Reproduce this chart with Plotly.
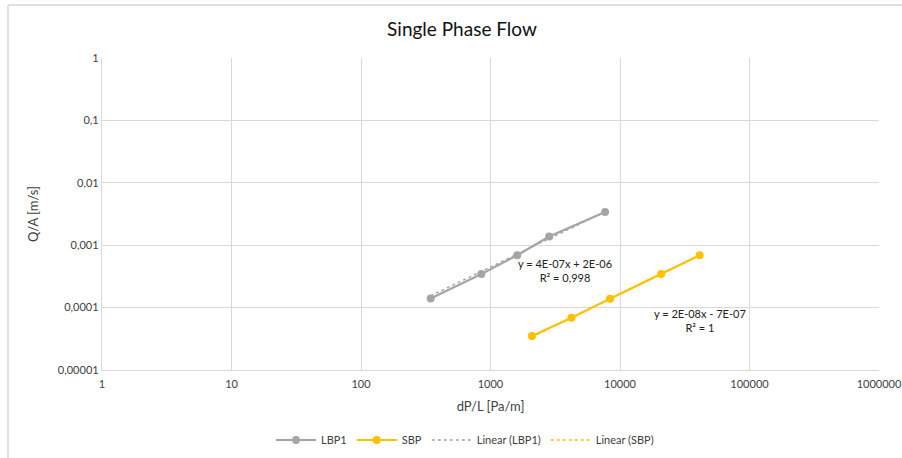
import numpy as np
import plotly.graph_objects as go

# Pressure gradient [Pa/m] and superficial velocity [m/s]
lbp1_dpdl = [345, 850, 1610, 2840, 7670]
lbp1_qa = [1.4e-4, 3.45e-4, 6.9e-4, 1.38e-3, 3.4e-3]
sbp_dpdl = [2090, 4220, 8380, 20800, 41200]
sbp_qa = [3.5e-5, 6.9e-5, 1.39e-4, 3.46e-4, 6.9e-4]

x_tickvals = [1, 10, 100, 1000, 10000, 100000, 1000000]
x_ticktext = ["1", "10", "100", "1000", "10000", "100000", "1000000"]
y_tickvals = [1e-5, 1e-4, 1e-3, 1e-2, 1e-1, 1]
y_ticktext = ["0,00001", "0,0001", "0,001", "0,01", "0,1", "1"]

lbp1_eq = "y = 4E-07x + 2E-06<br>R² = 0,998"
sbp_eq = "y = 2E-08x - 7E-07<br>R² = 1"

GRAY = "#a5a5a5"
YELLOW = "#ffc000"
TXT = "#404040"
GRID = "#d9d9d9"
FONT = "Lato"

W, H = 902, 458
ML, MR, MT, MB = 102, 23, 58, 88
PW, PH = W - ML - MR, H - MT - MB


def linear_fit(x, y):
    slope, intercept = np.polyfit(np.asarray(x, float), np.asarray(y, float), 1)
    xs = np.geomspace(min(x), max(x), 80)
    return xs, slope * xs + intercept


fig = go.Figure()

fig.add_trace(go.Scatter(
    x=lbp1_dpdl, y=lbp1_qa, name="LBP1", mode="lines+markers",
    line=dict(color=GRAY, width=2.2), marker=dict(color=GRAY, size=8),
))
fig.add_trace(go.Scatter(
    x=sbp_dpdl, y=sbp_qa, name="SBP", mode="lines+markers",
    line=dict(color=YELLOW, width=2.2), marker=dict(color=YELLOW, size=8),
))

tx, ty = linear_fit(lbp1_dpdl, lbp1_qa)
fig.add_trace(go.Scatter(
    x=tx, y=ty, name="Linear (LBP1)", mode="lines",
    line=dict(color=GRAY, width=1.4, dash="dot"),
))
tx, ty = linear_fit(sbp_dpdl, sbp_qa)
fig.add_trace(go.Scatter(
    x=tx, y=ty, name="Linear (SBP)", mode="lines",
    line=dict(color=YELLOW, width=1.4, dash="dot"),
))

fig.add_annotation(x=3.577, y=-3.41, xref="x", yref="y", text=lbp1_eq,
                   showarrow=False, font=dict(size=11, color="#222222", family=FONT),
                   align="center")
fig.add_annotation(x=4.615, y=-4.20, xref="x", yref="y", text=sbp_eq,
                   showarrow=False, font=dict(size=11, color="#222222", family=FONT),
                   align="center")

axis_common = dict(
    showgrid=True, gridcolor=GRID, gridwidth=1.3,
    showline=True, linecolor=GRID, linewidth=1.3, mirror=False,
    zeroline=False, ticks="",
    tickfont=dict(size=11, color=TXT, family=FONT),
    ticklabeloverflow="allow",
    automargin=False,
)

fig.update_xaxes(
    type="log", range=[0, 6], tickvals=x_tickvals, ticktext=x_ticktext,
    ticklabelstandoff=4,
    title=dict(text="dP/L [Pa/m]", font=dict(size=13, color=TXT, family=FONT), standoff=12),
    **axis_common,
)
fig.update_yaxes(
    type="log", range=[-5, 0], tickvals=y_tickvals, ticktext=y_ticktext,
    title=dict(text="Q/A [m/s]", font=dict(size=13, color=TXT, family=FONT), standoff=16),
    **axis_common,
)

# Chart frame edge (top and left)
frame_x = (8 - ML) / PW
frame_top = 1 + (MT - 5) / PH
fig.add_shape(type="line", xref="paper", yref="paper",
              x0=frame_x, x1=1 + MR / PW, y0=frame_top, y1=frame_top,
              line=dict(color="#e0e0e0", width=2))
fig.add_shape(type="line", xref="paper", yref="paper",
              x0=frame_x, x1=frame_x, y0=-MB / PH, y1=frame_top,
              line=dict(color="#e0e0e0", width=2))

fig.update_layout(
    width=W, height=H,
    margin=dict(l=ML, r=MR, t=MT, b=MB),
    paper_bgcolor="white", plot_bgcolor="white",
    font=dict(family=FONT, color=TXT),
    title=dict(text="Single Phase Flow", x=462 / W, xref="container", xanchor="center",
               y=1 - 29 / H, yref="container", yanchor="middle",
               font=dict(size=19, color="#111111", family=FONT)),
    showlegend=True,
    legend=dict(orientation="h", x=465 / W, xref="container", xanchor="center",
                y=1 - 440 / H, yref="container", yanchor="middle",
                font=dict(size=11, color=TXT, family=FONT), itemwidth=40),
)

fig.write_html("out.html")
